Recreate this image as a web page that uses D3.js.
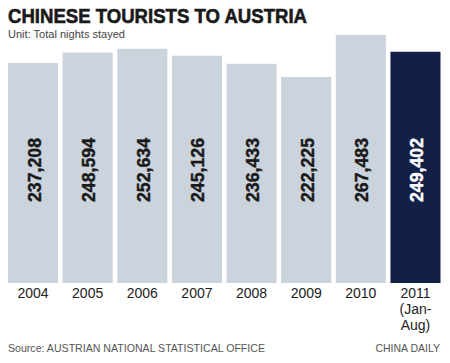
<!DOCTYPE html>
<meta charset="utf-8">
<html>
<head>
    <title>Chinese tourists to Austria</title>
    <style>
        body { margin: 0; background: #fff; }
        text { font-family: "Liberation Sans", Arial, sans-serif; }
    </style>
</head>
<body>
<script src="https://cdnjs.cloudflare.com/ajax/libs/d3/7.8.5/d3.min.js"></script>
<script>
    // data
    var years = ["2004", "2005", "2006", "2007", "2008", "2009", "2010", "2011"];
    var nights = [237208, 248594, 252634, 245126, 236433, 222225, 267483, 249402];
    var yearLabels = [["2004"], ["2005"], ["2006"], ["2007"], ["2008"], ["2009"], ["2010"], ["2011", "(Jan-", "Aug)"]];

    var svg = d3.select("body").append("svg")
        .attr("width", 450)
        .attr("height", 363);

    var x = d3.scaleBand()
        .domain(years)
        .range([8, 440.5])
        .paddingInner(0.084)
        .paddingOuter(0);

    var y = d3.scaleLinear()
        .domain([0, 267483])
        .range([283, 35]);

    // title
    svg.append("text")
        .attr("x", 8).attr("y", 23)
        .attr("font-size", 20).attr("font-weight", "bold")
        .attr("fill", "#1a1a1a")
        .attr("stroke", "#1a1a1a").attr("stroke-width", 0.6)
        .attr("textLength", 299).attr("lengthAdjust", "spacingAndGlyphs")
        .text("CHINESE TOURISTS TO AUSTRIA");

    svg.append("text")
        .attr("x", 8).attr("y", 38)
        .attr("font-size", 11.5)
        .attr("fill", "#444")
        .attr("textLength", 117).attr("lengthAdjust", "spacingAndGlyphs")
        .text("Unit: Total nights stayed");

    // bars
    var idx = d3.range(years.length);
    svg.selectAll("rect.bar")
        .data(idx)
        .enter().append("rect")
        .attr("class", "bar")
        .attr("x", function (i) { return x(years[i]); })
        .attr("y", function (i) { return y(nights[i]); })
        .attr("width", x.bandwidth())
        .attr("height", function (i) { return y(0) - y(nights[i]); })
        .attr("fill", function (i) { return i == 7 ? "#121f47" : "#cbd3dc"; });

    // value labels (rotated)
    var fmt = d3.format(",");
    svg.selectAll("text.val")
        .data(idx)
        .enter().append("text")
        .attr("class", "val")
        .attr("transform", function (i) {
            return "translate(" + (x(years[i]) + x.bandwidth() / 2 + 1) + ",202) rotate(-90)";
        })
        .attr("dy", "0.36em")
        .attr("font-size", 18).attr("font-weight", "bold")
        .attr("textLength", 64).attr("lengthAdjust", "spacingAndGlyphs")
        .attr("fill", function (i) { return i == 7 ? "#fff" : "#1a1a1a"; })
        .attr("stroke", function (i) { return i == 7 ? "#fff" : "#1a1a1a"; })
        .attr("stroke-width", 0.4)
        .text(function (i) { return fmt(nights[i]); });

    // x axis labels
    var xl = svg.selectAll("text.yr")
        .data(idx)
        .enter().append("text")
        .attr("class", "yr")
        .attr("x", function (i) { return x(years[i]) + x.bandwidth() / 2; })
        .attr("y", 298)
        .attr("text-anchor", "middle")
        .attr("font-size", 14)
        .attr("fill", "#222");
    xl.selectAll("tspan")
        .data(function (i) { return yearLabels[i].map(function (s) { return { s: s, i: i }; }); })
        .enter().append("tspan")
        .attr("x", function (d) { return x(years[d.i]) + x.bandwidth() / 2; })
        .attr("dy", function (d, j) { return j == 0 ? 0 : 16; })
        .text(function (d) { return d.s; });

    // footer
    svg.append("text")
        .attr("x", 8).attr("y", 352)
        .attr("font-size", 11.5)
        .attr("fill", "#555")
        .attr("textLength", 257).attr("lengthAdjust", "spacingAndGlyphs")
        .text("Source: AUSTRIAN NATIONAL STATISTICAL OFFICE");

    svg.append("text")
        .attr("x", 440).attr("y", 352)
        .attr("text-anchor", "end")
        .attr("font-size", 10.5)
        .attr("fill", "#555")
        .text("CHINA DAILY");
</script>
</body>
</html>
